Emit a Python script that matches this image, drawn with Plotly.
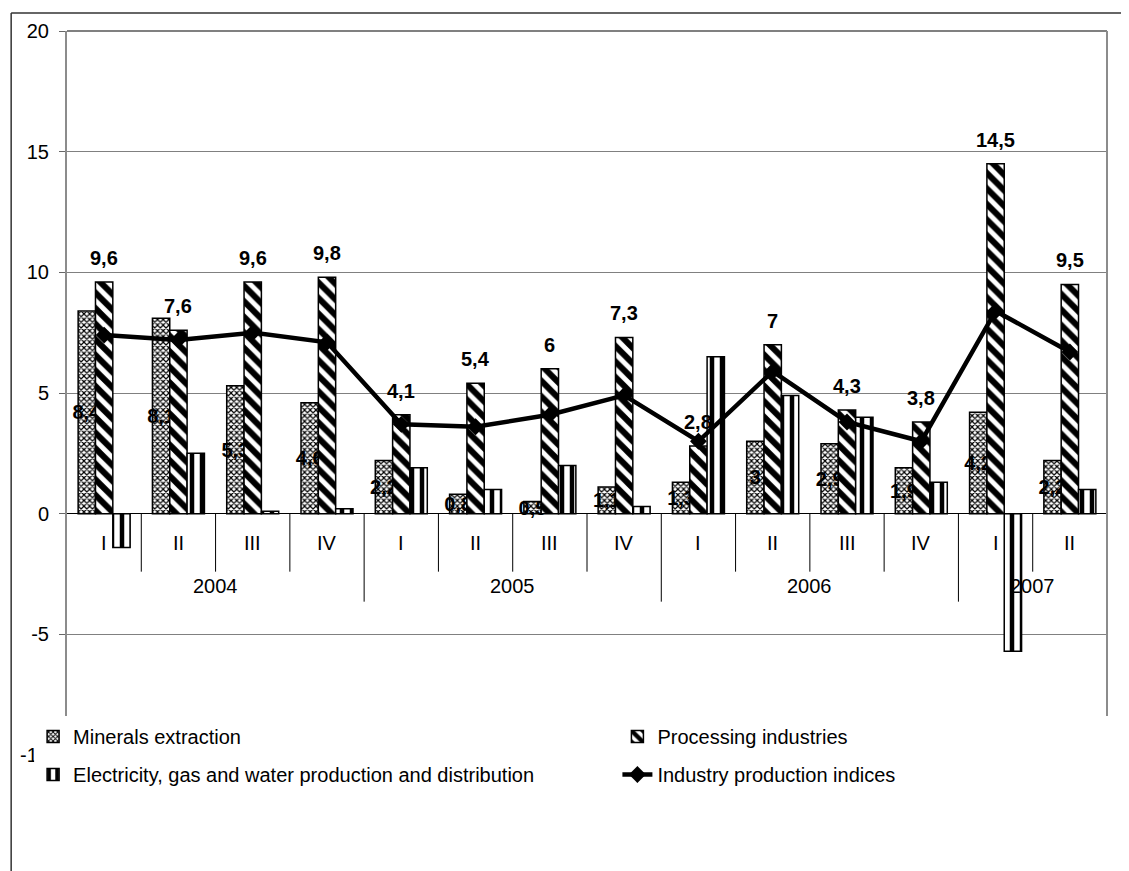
import plotly.graph_objects as go

# ---- data ----
quarters = ["I", "II", "III", "IV", "I", "II", "III", "IV", "I", "II", "III", "IV", "I", "II"]
years = ["2004"] * 4 + ["2005"] * 4 + ["2006"] * 4 + ["2007"] * 2
minerals = [8.4, 8.1, 5.3, 4.6, 2.2, 0.8, 0.5, 1.1, 1.3, 3.0, 2.9, 1.9, 4.2, 2.2]
processing = [9.6, 7.6, 9.6, 9.8, 4.1, 5.4, 6.0, 7.3, 2.8, 7.0, 4.3, 3.8, 14.5, 9.5]
electricity = [-1.4, 2.5, 0.1, 0.2, 1.9, 1.0, 2.0, 0.3, 6.5, 4.9, 4.0, 1.3, -5.7, 1.0]
industry_index = [7.4, 7.2, 7.5, 7.1, 3.7, 3.6, 4.1, 4.9, 3.0, 5.9, 3.8, 3.0, 8.4, 6.7]
series_names = ["Minerals extraction", "Processing industries",
                "Electricity, gas and water production and distribution",
                "Industry production indices"]
y_ticks = [-10, -5, 0, 5, 10, 15, 20]
y_ticktext = ["-10", "-5", "0", "5", "10", "15", "20"]

FONT = "Liberation Sans, Arial, sans-serif"
W, H = 1129, 871
S = 8  # page body offset
ML, MR, MT, MB = 56, 30, 23, 124


def fmt(v):
    return f"{v:g}".replace(".", ",")


def px(xs_):
    return (xs_ - S - ML) / (W - ML - MR)


def py(ys_):
    return (H - MB - (ys_ - S)) / (H - MT - MB)


xs = list(range(len(quarters)))
line_style = dict(color="black", width=1.5)

fig = go.Figure()
fig.add_trace(go.Bar(
    x=xs, y=minerals, name=series_names[0], legend="legend", legendgroup="a",
    marker=dict(color="white", line=line_style,
                pattern=dict(shape="x", size=4, solidity=0.5, fgcolor="black",
                             bgcolor="white", fgopacity=1)),
    text=[fmt(v) for v in minerals], textposition="inside", insidetextanchor="middle",
    constraintext="none", textangle=0,
    textfont=dict(family=FONT, size=20, color="black", weight="bold"),
))
fig.add_trace(go.Bar(
    x=xs, y=processing, name=series_names[1], legend="legend2", legendgroup="b",
    marker=dict(color="white", line=line_style,
                pattern=dict(shape="\\", size=11, solidity=0.55, fgcolor="black",
                             bgcolor="white", fgopacity=1)),
))
fig.add_trace(go.Bar(
    x=xs, y=electricity, name=series_names[2], legend="legend", legendgroup="c",
    marker=dict(color="white", line=line_style,
                pattern=dict(shape="|", size=10, solidity=0.45, fgcolor="black",
                             bgcolor="white", fgopacity=1)),
))
fig.add_trace(go.Scatter(
    x=xs, y=industry_index, name=series_names[3], legend="legend2", legendgroup="d",
    mode="lines+markers", line=dict(color="black", width=4.5),
    marker=dict(symbol="diamond", size=13, color="black"),
))

annotations = []
for i, v in enumerate(processing):
    annotations.append(dict(x=i, y=v, xref="x", yref="y", text=fmt(v), showarrow=False,
                            yshift=24, font=dict(family=FONT, size=20, color="black", weight="bold")))
for i, q in enumerate(quarters):
    annotations.append(dict(x=i, y=0, xref="x", yref="y", text=q, showarrow=False,
                            yshift=-29, font=dict(family=FONT, size=20, color="black")))
for yr in dict.fromkeys(years):
    idx = [i for i, y in enumerate(years) if y == yr]
    annotations.append(dict(x=sum(idx) / len(idx), y=0, xref="x", yref="y", text=yr,
                            showarrow=False, yshift=-72,
                            font=dict(family=FONT, size=20, color="black")))

shapes = []
for i in range(1, len(quarters)):
    long = years[i] != years[i - 1]
    shapes.append(dict(type="line", xref="x", yref="y", x0=i - 0.5, x1=i - 0.5,
                       ysizemode="pixel", yanchor=0, y0=0, y1=-88 if long else -58,
                       line=dict(color="black", width=1)))
# top and right border of plot area
shapes.append(dict(type="line", xref="paper", yref="paper", x0=0, x1=1, y0=1, y1=1,
                   line=dict(color="#808080", width=2)))
shapes.append(dict(type="line", xref="paper", yref="paper", x0=1, x1=1, y0=py(716), y1=1,
                   line=dict(color="#8c8c8c", width=2)))
# white cover below plot (legend area)
shapes.append(dict(type="rect", xref="paper", yref="paper", x0=px(31), x1=px(1116),
                   y0=py(800), y1=py(716), fillcolor="white", line=dict(width=0), layer="above"))
# outer frame
shapes.append(dict(type="line", xref="paper", yref="paper", x0=px(8), x1=px(1140),
                   y0=py(13), y1=py(13), line=dict(color="#333333", width=1.5)))
shapes.append(dict(type="line", xref="paper", yref="paper", x0=px(8), x1=px(8),
                   y0=py(13), y1=py(890), line=dict(color="#333333", width=1.5)))

legend_common = dict(orientation="v", bgcolor="rgba(0,0,0,0)", borderwidth=0,
                     font=dict(family=FONT, size=20, color="black"),
                     tracegroupgap=9, xanchor="left", yanchor="top", traceorder="grouped")

fig.update_layout(
    width=W, height=H,
    margin=dict(l=ML, r=MR, t=MT, b=MB),
    paper_bgcolor="white", plot_bgcolor="white",
    barmode="group", bargap=0.3, bargroupgap=0,
    font=dict(family=FONT, size=20, color="black"),
    xaxis=dict(range=[-0.5, len(quarters) - 0.5], showticklabels=False, showgrid=False,
               zeroline=False, showline=False, ticks=""),
    yaxis=dict(range=[-10, 20], tickvals=y_ticks, ticktext=y_ticktext, showgrid=True,
               gridcolor="#808080", gridwidth=1, zeroline=True, zerolinecolor="black",
               zerolinewidth=1, showline=True, linecolor="#8c8c8c", linewidth=2,
               ticks="outside", ticklen=6, tickcolor="#666666", ticklabelstandoff=6,
               tickfont=dict(family=FONT, size=20, color="black")),
    legend=dict(x=px(30), y=py(717), **legend_common),
    legend2=dict(x=px(616), y=py(717), **legend_common),
    annotations=annotations,
    shapes=shapes,
    showlegend=True,
)

fig.write_html("out.html")
